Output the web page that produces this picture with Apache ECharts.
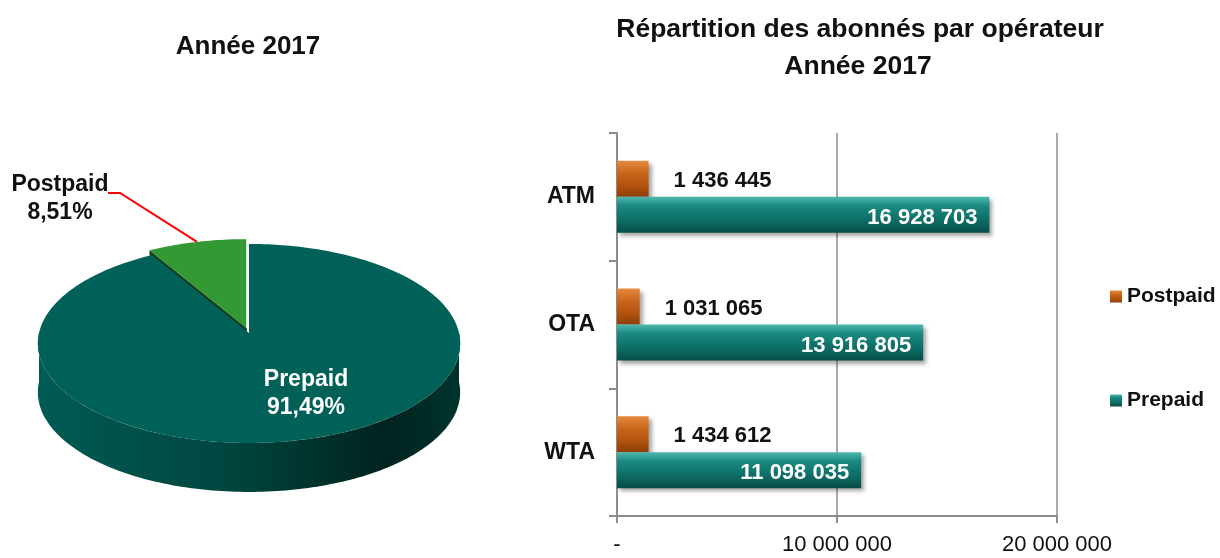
<!DOCTYPE html>
<html>
<head>
<meta charset="utf-8">
<script src="https://cdn.jsdelivr.net/npm/echarts@6/dist/echarts.min.js"></script>
<style>
  html, body { margin: 0; padding: 0; background: #fff; }
  #chart { width: 1220px; height: 558px; }
</style>
</head>
<body>
<div id="chart"></div>
<script>
// données
const operators = ['ATM', 'OTA', 'WTA'];
const postpaid = [1436445, 1031065, 1434612];
const prepaid = [16928703, 13916805, 11098035];
const xTicks = [0, 10000000, 20000000];

const pieNames = ['Prepaid', 'Postpaid'];
const pieShares = [91.49, 8.51];

const FONT = "'Liberation Sans Narrow', 'Arial Narrow', 'Liberation Sans', Arial, sans-serif";

const fmt = v => String(v).replace(/\B(?=(\d{3})+(?!\d))/g, ' ');
const pct = v => v.toFixed(2).replace('.', ',') + '%';

// ellipse du camembert 3D (légère perspective : l'avant est plus grand)
const PIE = { cx: 249, cy: 333, rx: 210, ry: 99.5, persp: 0.105, depth: 49 };
const rim = (t, dx, dy, down) => {
  const f = 1 - PIE.persp * Math.cos(t);
  return [
    PIE.cx - PIE.rx * Math.sin(t) * f + dx,
    PIE.cy - PIE.ry * Math.cos(t) * f + dy + (down || 0)
  ];
};
const arc = (t0, t1, dx, dy, down) => {
  const pts = [];
  const n = Math.max(2, Math.ceil(Math.abs(t1 - t0) / 0.02));
  for (let i = 0; i <= n; i++) pts.push(rim(t0 + (t1 - t0) * i / n, dx, dy, down));
  return pts;
};

const renderPie = (params, api) => {
  const i = params.dataIndex;
  const total = pieShares.reduce((s, v) => s + v, 0);
  let before = 0;
  for (let k = i + 1; k < pieShares.length; k++) before += pieShares[k];
  const t0 = before / total * Math.PI * 2;
  const t1 = (before + pieShares[i]) / total * Math.PI * 2;
  const mid = (t0 + t1) / 2;
  const children = [];

  if (i === 0) {
    // Prepaid : paroi + dessus
    const a = Math.max(t0, Math.PI / 2), b = Math.min(t1, Math.PI * 1.5);
    const side = arc(a, b, 0, 0).concat(arc(b, a, 0, 0, PIE.depth));
    children.push({
      type: 'polygon', z2: 2,
      shape: { points: side },
      style: {
        fill: new echarts.graphic.LinearGradient(0, 0, 1, 0, [
          { offset: 0, color: '#005b53' },
          { offset: 0.45, color: '#00463f' },
          { offset: 0.82, color: '#00231f' },
          { offset: 1, color: '#00332d' }
        ])
      }
    });
    children.push({
      type: 'polygon', z2: 3,
      shape: { points: [[PIE.cx, PIE.cy]].concat(arc(t0, t1, 0, 0)) },
      style: { fill: '#006159' }
    });
    children.push({
      type: 'text', z2: 10,
      style: {
        text: pieNames[i] + '\n' + pct(pieShares[i]),
        x: 306, y: 394,
        align: 'center', verticalAlign: 'middle',
        fill: '#ffffff', font: 'bold 23px ' + FONT, lineHeight: 28
      }
    });
  } else {
    // Postpaid : part éclatée
    const dx = -Math.sin(mid) * 8, dy = -Math.cos(mid) * 5;
    const c = [PIE.cx + dx, PIE.cy + dy];
    const e = rim(t1, dx, dy);
    children.push({
      type: 'polygon', z2: 1,
      shape: { points: [c, e, [e[0], e[1] + PIE.depth], [c[0], c[1] + PIE.depth]] },
      style: { fill: '#123d1c' }
    });
    children.push({
      type: 'polygon', z2: 4,
      shape: { points: [c].concat(arc(t0, t1, dx, dy)) },
      style: { fill: '#339933' }
    });
    const s = rim(t0, dx, dy);
    children.push({
      type: 'line', z2: 5,
      shape: { x1: c[0], y1: c[1], x2: s[0], y2: s[1] },
      style: { stroke: 'rgba(255,255,255,0.85)', lineWidth: 1.5 }
    });
    const m = rim(mid, dx, dy);
    children.push({
      type: 'polyline', z2: 6,
      shape: { points: [[108, 193], [120, 193], m] },
      style: { stroke: '#ff0000', lineWidth: 2, fill: null }
    });
    children.push({
      type: 'text', z2: 10,
      style: {
        text: pieNames[i] + '\n' + pct(pieShares[i]),
        x: 60, y: 199,
        align: 'center', verticalAlign: 'middle',
        fill: '#111111', font: 'bold 23px ' + FONT, lineHeight: 28
      }
    });
  }
  return { type: 'group', children };
};

const chart = echarts.init(document.getElementById('chart'));

const barGradient = (stops) => new echarts.graphic.LinearGradient(0, 0, 0, 1,
  stops.map((c, k) => ({ offset: k / (stops.length - 1), color: c })));

const option = {
  animation: false,
  backgroundColor: '#ffffff',
  graphic: [
    { type: 'text', x: 248, y: 47, style: { text: 'Année 2017', align: 'center', verticalAlign: 'middle', font: 'bold 26px ' + FONT, fill: '#111' } },
    { type: 'text', x: 860, y: 30, style: { text: 'Répartition des abonnés par opérateur', align: 'center', verticalAlign: 'middle', font: 'bold 26.5px ' + FONT, fill: '#111' } },
    { type: 'text', x: 858, y: 67, style: { text: 'Année 2017', align: 'center', verticalAlign: 'middle', font: 'bold 26.5px ' + FONT, fill: '#111' } }
  ],
  legend: {
    data: ['Postpaid', 'Prepaid'],
    orient: 'vertical',
    left: 1105,
    top: 281,
    itemGap: 83,
    itemWidth: 12,
    itemHeight: 12,
    icon: 'rect',
    textStyle: { fontFamily: FONT, fontSize: 21, fontWeight: 'bold', color: '#111' }
  },
  grid: {
    left: 617,
    right: 163,
    top: 133,
    bottom: 42,
    outerBoundsMode: 'none'
  },
  xAxis: {
    type: 'value',
    min: 0,
    max: 20000000,
    interval: 10000000,
    axisLine: { show: true, lineStyle: { color: '#8c8c8c', width: 2 } },
    axisTick: { show: true, length: 7, lineStyle: { color: '#8c8c8c', width: 2 } },
    splitLine: { show: true, lineStyle: { color: '#8c8c8c', width: 1.5 } },
    axisLabel: {
      margin: 18,
      fontFamily: FONT, fontSize: 22, color: '#111',
      formatter: v => (xTicks.indexOf(v) === 0 ? '-' : fmt(v))
    }
  },
  yAxis: {
    type: 'category',
    data: operators,
    inverse: true,
    axisLine: { show: true, lineStyle: { color: '#8c8c8c', width: 2 } },
    axisTick: { show: true, length: 8, lineStyle: { color: '#8c8c8c', width: 2 } },
    axisLabel: { margin: 22, fontFamily: FONT, fontSize: 23, fontWeight: 'bold', color: '#111' }
  },
  series: [
    {
      name: 'Postpaid',
      type: 'bar',
      data: postpaid,
      barWidth: 36,
      barGap: '0%',
      itemStyle: {
        color: barGradient(['#e58a3e', '#c9661c', '#b5540f', '#8e3e06']),
        shadowColor: 'rgba(0,0,0,0.35)', shadowBlur: 4, shadowOffsetX: 3, shadowOffsetY: 3
      },
      label: {
        show: true, position: 'right', distance: 25, offset: [0, 2],
        fontFamily: FONT, fontSize: 22, fontWeight: 'bold', color: '#111',
        formatter: p => fmt(p.value)
      }
    },
    {
      name: 'Prepaid',
      type: 'bar',
      data: prepaid,
      barWidth: 36,
      barGap: '0%',
      itemStyle: {
        color: barGradient(['#4fb8ae', '#1a8a82', '#117870', '#0c655e', '#064c46']),
        shadowColor: 'rgba(0,0,0,0.35)', shadowBlur: 4, shadowOffsetX: 3, shadowOffsetY: 3
      },
      label: {
        show: true, position: 'insideRight', distance: 12, offset: [0, 3],
        fontFamily: FONT, fontSize: 22, fontWeight: 'bold', color: '#ffffff',
        formatter: p => fmt(p.value)
      }
    },
    {
      type: 'custom',
      coordinateSystem: 'none',
      data: pieShares,
      renderItem: renderPie,
      silent: true
    }
  ]
};

chart.setOption(option);
</script>
</body>
</html>
